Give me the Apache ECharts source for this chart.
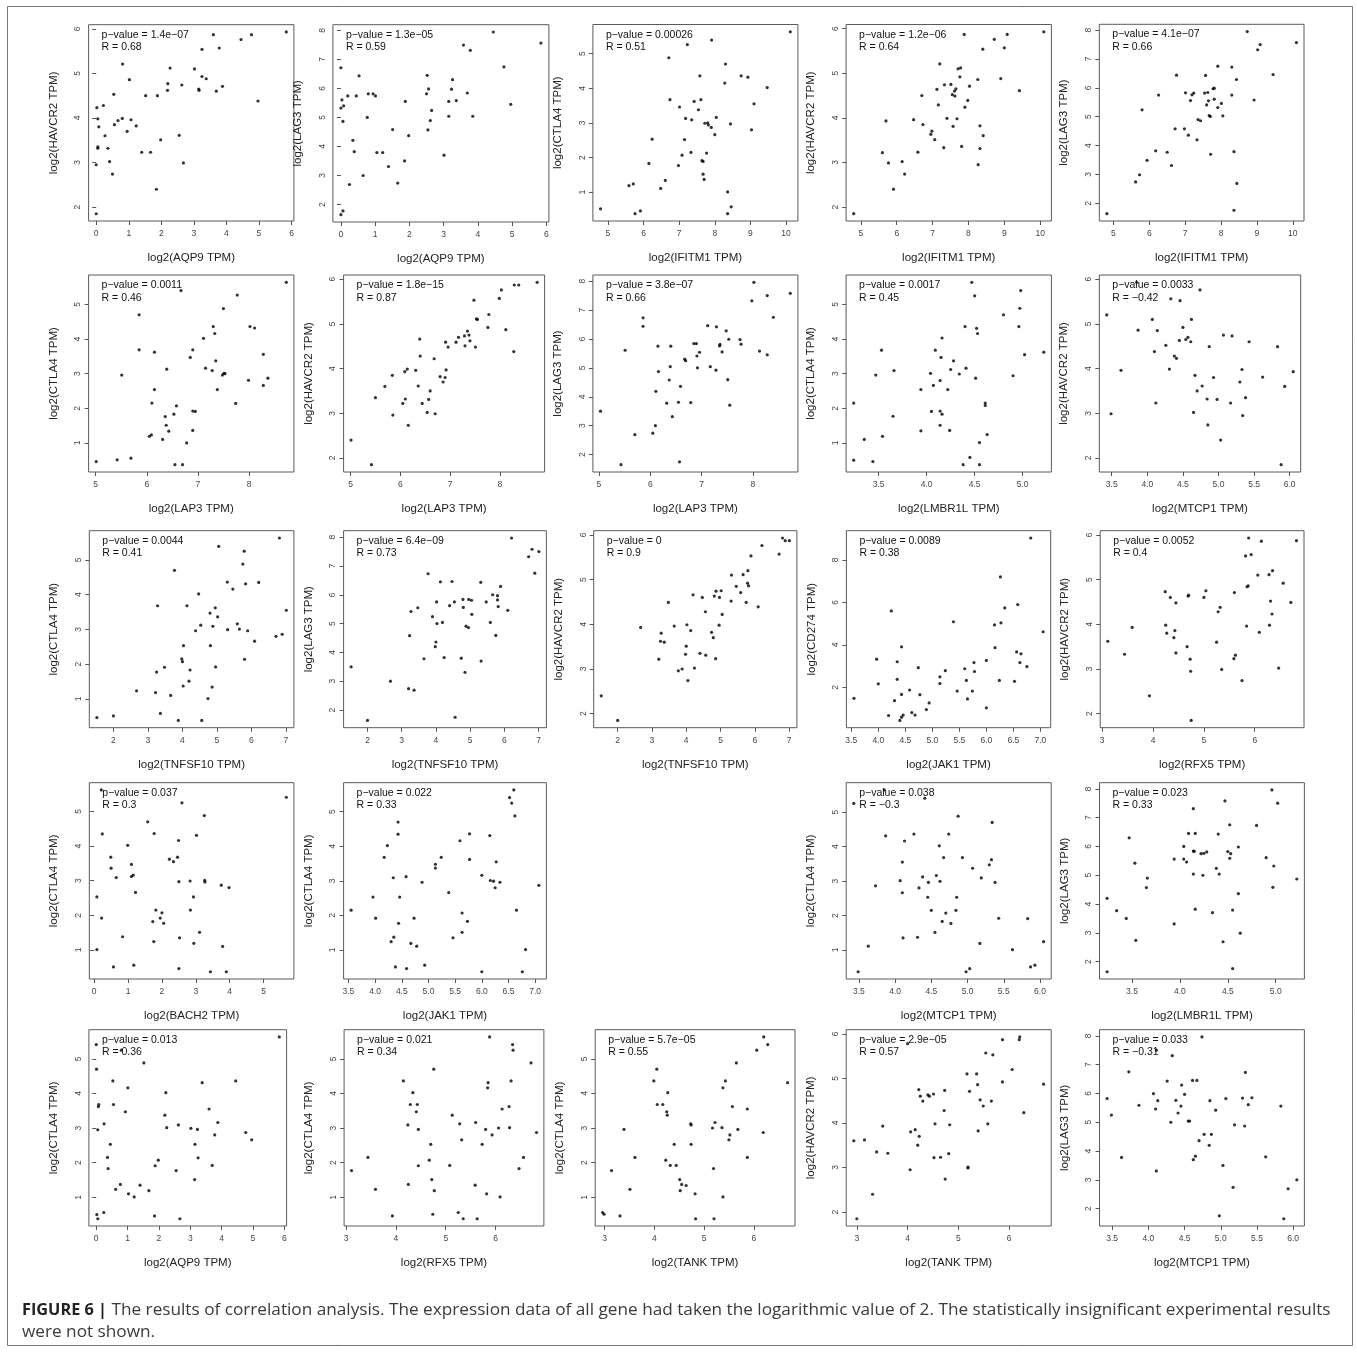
<!DOCTYPE html>
<html><head><meta charset="utf-8">
<script src="https://cdn.jsdelivr.net/npm/echarts@6/dist/echarts.min.js"></script>
<style>html,body{margin:0;padding:0;background:#fff}#c{width:1357px;height:1353px}</style>
</head><body><div id="c"></div><script>
// ---------------- DATA ----------------
const xGenes = ['AQP9','AQP9','IFITM1','IFITM1','IFITM1','LAP3','LAP3','LAP3','LMBR1L','MTCP1','TNFSF10','TNFSF10','TNFSF10','JAK1','RFX5','BACH2','JAK1','MTCP1','LMBR1L','AQP9','RFX5','TANK','TANK','MTCP1'];
const yGenes = ['HAVCR2','LAG3','CTLA4','HAVCR2','LAG3','CTLA4','HAVCR2','LAG3','CTLA4','HAVCR2','CTLA4','LAG3','HAVCR2','CD274','HAVCR2','CTLA4','CTLA4','CTLA4','LAG3','CTLA4','CTLA4','CTLA4','HAVCR2','LAG3'];
const pValues = ['1.4e\u221207','1.3e\u221205','0.00026','1.2e\u221206','4.1e\u221207','0.0011','1.8e\u221215','3.8e\u221207','0.0017','0.0033','0.0044','6.4e\u221209','0','0.0089','0.0052','0.037','0.022','0.038','0.023','0.013','0.021','5.7e\u221205','2.9e\u221205','0.033'];
const rValues = ['0.68','0.59','0.51','0.64','0.66','0.46','0.87','0.66','0.45','\u22120.42','0.41','0.73','0.9','0.38','0.4','0.3','0.33','\u22120.3','0.33','0.36','0.34','0.55','0.57','\u22120.31'];
const xTicks = [[0,1,2,3,4,5,6],[0,1,2,3,4,5,6],[5,6,7,8,9,10],[5,6,7,8,9,10],[5,6,7,8,9,10],[5,6,7,8],[5,6,7,8],[5,6,7,8],[3.5,4,4.5,5],[3.5,4,4.5,5,5.5,6],[2,3,4,5,6,7],[2,3,4,5,6,7],[2,3,4,5,6,7],[3.5,4,4.5,5,5.5,6,6.5,7],[3,4,5,6],[0,1,2,3,4,5],[3.5,4,4.5,5,5.5,6,6.5,7],[3.5,4,4.5,5,5.5,6],[3.5,4,4.5,5],[0,1,2,3,4,5,6],[3,4,5,6],[3,4,5,6],[3,4,5,6],[3.5,4,4.5,5,5.5,6]];
const yTicks = [[2,3,4,5,6],[2,3,4,5,6,7,8],[1,2,3,4,5],[2,3,4,5,6],[2,3,4,5,6,7,8],[1,2,3,4,5],[2,3,4,5,6],[2,3,4,5,6,7,8],[1,2,3,4,5],[2,3,4,5,6],[1,2,3,4,5],[2,3,4,5,6,7,8],[2,3,4,5,6],[2,4,6,8],[2,3,4,5,6],[1,2,3,4,5],[1,2,3,4,5],[1,2,3,4,5],[2,3,4,5,6,7,8],[1,2,3,4,5],[1,2,3,4,5],[1,2,3,4,5],[2,3,4,5,6],[2,3,4,5,6,7,8]];

const p01 = [[0,1.85],[0,2.95],[0.02,4.23],[0.05,3.98],[0.08,3.80],[0.05,3.35],[0.05,3.32],[0.22,4.28],[0.27,3.60],[0.36,3.32],[0.41,3.02],[0.50,2.74],[0.54,4.53],[0.56,3.85],[0.67,3.94],[0.80,3.99],[0.81,5.21],[0.95,3.70],[1.02,4.86],[1.07,3.96],[1.23,3.82],[1.40,3.23],[1.52,4.50],[1.67,3.23],[1.85,2.40],[1.88,4.50],[1.98,3.51],[2.19,4.62],[2.20,4.77],[2.27,5.12],[2.55,3.61],[2.63,4.74],[2.68,2.99],[3.02,5.10],[3.15,4.65],[3.16,4.62],[3.25,5.54],[3.25,4.93],[3.38,4.88],[3.60,5.87],[3.69,4.60],[3.78,5.57],[3.88,4.71],[4.45,5.76],[4.77,5.87],[4.97,4.38],[5.84,5.93]];
const p02 = [[0,1.65],[0.06,1.78],[0,6.71],[0.03,5.60],[0.08,5.40],[0,5.32],[0.06,4.86],[0.25,2.69],[0.35,4.21],[0.39,3.82],[0.2,5.74],[0.45,5.74],[0.53,6.43],[0.65,3.00],[0.77,5.0],[0.80,5.81],[0.94,5.81],[1.01,5.74],[1.05,3.79],[1.22,3.79],[1.39,3.31],[1.51,4.58],[1.66,2.74],[1.86,3.50],[1.88,5.55],[1.98,4.37],[2.50,5.81],[2.52,6.45],[2.56,5.98],[2.54,4.57],[2.61,4.89],[2.65,5.24],[3.01,3.70],[3.15,5.55],[3.15,5.04],[3.23,5.97],[3.26,6.30],[3.37,5.58],[3.58,7.49],[3.69,5.84],[3.78,7.31],[3.85,5.04],[4.45,7.94],[4.76,6.74],[4.96,5.45],[5.84,7.56]];
const p03 = [[4.79,0.52],[5.59,1.19],[5.71,1.24],[5.76,0.38],[5.91,0.46],[6.15,1.83],[6.24,2.53],[6.48,1.11],[6.61,1.34],[6.71,4.88],[6.74,3.67],[6.98,1.77],[7.01,3.46],[7.08,2.07],[7.15,2.52],[7.18,3.13],[7.23,5.26],[7.33,2.15],[7.35,3.09],[7.42,3.62],[7.54,3.38],[7.58,4.36],[7.61,3.67],[7.64,1.91],[7.67,1.89],[7.67,1.52],[7.70,1.37],[7.72,2.99],[7.77,2.13],[7.80,3.00],[7.82,2.94],[7.90,2.87],[7.91,5.39],[8.0,2.66],[8.04,3.16],[8.28,4.15],[8.30,4.70],[8.36,1.01],[8.36,0.38],[8.44,2.97],[8.46,0.58],[8.74,4.36],[8.93,4.32],[9.03,2.80],[9.10,3.55],[9.47,4.02],[10.12,5.63]];
const p04 = [[4.80,1.85],[5.60,3.22],[5.70,3.93],[5.77,2.99],[5.91,2.40],[6.15,3.02],[6.22,2.74],[6.47,3.96],[6.59,3.23],[6.70,4.50],[6.73,3.85],[6.95,3.63],[6.98,3.70],[7.06,3.51],[7.12,4.64],[7.16,4.29],[7.20,5.21],[7.31,3.33],[7.33,4.74],[7.40,3.99],[7.51,4.75],[7.55,4.52],[7.57,3.81],[7.61,4.60],[7.62,4.49],[7.65,4.65],[7.68,3.98],[7.71,5.10],[7.76,4.92],[7.78,5.12],[7.81,3.36],[7.88,5.87],[7.90,4.24],[7.98,4.39],[8.03,4.71],[8.26,4.86],[8.27,2.95],[8.32,3.82],[8.32,3.31],[8.40,5.54],[8.41,3.60],[8.72,5.76],[8.90,4.88],[9.00,5.57],[9.08,5.87],[9.42,4.61],[10.10,5.93]];
const p05 = [[4.82,1.64],[5.62,2.74],[5.73,2.99],[5.80,5.24],[5.94,3.49],[6.18,3.82],[6.26,5.75],[6.50,3.77],[6.62,3.31],[6.72,4.58],[6.76,6.44],[6.98,4.58],[7.01,5.83],[7.09,4.36],[7.15,5.56],[7.19,5.76],[7.24,5.82],[7.33,4.20],[7.36,4.90],[7.43,4.86],[7.54,5.82],[7.57,6.43],[7.60,5.41],[7.63,5.84],[7.65,5.55],[7.67,5.04],[7.70,5.01],[7.71,3.70],[7.78,5.97],[7.81,5.99],[7.81,5.61],[7.91,6.75],[7.91,5.32],[8.01,5.46],[8.05,5.03],[8.30,6.72],[8.30,5.75],[8.36,3.79],[8.43,6.29],[8.44,2.69],[8.36,1.76],[8.73,7.95],[8.92,5.58],[9.02,7.32],[9.09,7.50],[9.45,6.46],[10.10,7.57]];
const p06 = [[5.01,0.46],[5.42,0.51],[5.69,0.56],[5.51,2.96],[5.85,4.70],[5.85,3.69],[6.05,1.19],[6.09,1.23],[6.10,2.15],[6.15,3.62],[6.15,2.54],[6.31,1.10],[6.36,1.76],[6.38,1.51],[6.39,3.13],[6.43,1.34],[6.53,1.83],[6.55,0.37],[6.58,2.07],[6.67,5.40],[6.70,0.37],[6.78,1.00],[6.85,3.47],[6.90,3.69],[6.90,1.36],[6.90,1.92],[6.95,1.91],[7.11,4.02],[7.15,3.16],[7.28,3.09],[7.30,4.36],[7.33,4.16],[7.35,3.37],[7.38,2.54],[7.48,2.96],[7.50,4.88],[7.51,3.01],[7.53,3.00],[7.74,2.14],[7.77,5.27],[7.99,2.81],[8.02,4.36],[8.11,4.32],[8.28,3.56],[8.28,2.66],[8.37,2.87],[8.73,5.64]];
const p07 = [[5.01,2.40],[5.42,1.85],[5.50,3.35],[5.69,3.60],[5.84,3.85],[5.85,2.96],[6.05,3.22],[6.09,3.93],[6.10,3.32],[6.14,3.99],[6.16,2.73],[6.31,3.96],[6.36,3.61],[6.39,4.66],[6.40,4.28],[6.44,3.22],[6.57,3.31],[6.60,3.50],[6.54,3.02],[6.68,4.22],[6.70,2.99],[6.80,3.82],[6.86,3.70],[6.90,3.80],[6.91,4.59],[6.92,3.97],[6.96,4.48],[7.12,4.59],[7.17,4.70],[7.29,4.73],[7.30,4.51],[7.35,4.84],[7.38,4.75],[7.40,4.62],[7.48,5.53],[7.51,4.48],[7.53,5.11],[7.55,5.10],[7.76,4.92],[7.78,5.21],[7.99,5.57],[8.03,5.76],[8.12,4.87],[8.28,4.38],[8.29,5.87],[8.38,5.87],[8.75,5.93]];
const p08 = [[5.03,3.50],[5.43,1.65],[5.51,5.61],[5.70,2.69],[5.86,6.73],[5.86,6.44],[6.05,2.74],[6.10,3.00],[6.11,4.19],[6.15,5.75],[6.16,4.87],[6.32,3.78],[6.37,4.58],[6.39,5.04],[6.40,5.75],[6.43,3.31],[6.55,3.81],[6.57,1.75],[6.59,4.36],[6.67,5.30],[6.69,5.25],[6.79,3.80],[6.85,5.84],[6.90,5.84],[6.91,5.41],[6.92,5.00],[6.96,5.54],[7.12,6.46],[7.17,5.04],[7.28,4.92],[7.29,6.42],[7.35,5.76],[7.36,5.81],[7.40,5.55],[7.48,6.28],[7.51,4.59],[7.53,5.99],[7.55,3.71],[7.75,5.98],[7.77,5.82],[7.98,7.32],[8.02,7.96],[8.13,5.58],[8.28,7.50],[8.28,5.45],[8.40,6.75],[8.73,7.58]];
const p09 = [[3.24,2.15],[3.24,0.50],[3.35,1.10],[3.44,0.46],[3.47,2.96],[3.53,3.68],[3.54,1.19],[3.65,1.77],[3.66,3.09],[3.94,2.54],[3.94,1.35],[4.04,3.01],[4.05,1.91],[4.07,2.66],[4.09,3.68],[4.14,2.80],[4.14,1.92],[4.15,3.47],[4.14,1.51],[4.16,1.83],[4.16,4.03],[4.22,2.54],[4.24,1.36],[4.25,3.12],[4.28,3.37],[4.34,2.99],[4.38,0.37],[4.40,4.36],[4.41,3.16],[4.45,0.58],[4.47,5.64],[4.50,5.25],[4.51,2.87],[4.52,4.31],[4.53,4.16],[4.55,1.01],[4.55,0.37],[4.61,2.15],[4.61,2.08],[4.63,1.24],[4.80,4.70],[4.90,2.94],[4.96,4.36],[4.97,4.89],[4.98,5.40],[5.02,3.55],[5.22,3.62]];
const p10 = [[3.43,5.20],[3.49,2.99],[3.63,3.96],[3.85,5.93],[3.87,4.86],[4.07,5.10],[4.10,4.38],[4.12,3.23],[4.14,4.85],[4.26,4.52],[4.31,3.99],[4.33,5.56],[4.38,4.28],[4.41,4.23],[4.45,4.63],[4.46,5.52],[4.50,4.92],[4.54,4.65],[4.57,4.70],[4.61,4.60],[4.62,5.10],[4.65,3.02],[4.67,3.85],[4.70,3.50],[4.74,5.76],[4.77,3.61],[4.84,3.32],[4.85,2.74],[4.87,4.49],[4.93,3.80],[4.98,3.31],[5.03,2.40],[5.07,4.75],[5.17,3.23],[5.19,4.73],[5.30,3.70],[5.33,3.98],[5.34,2.95],[5.38,3.35],[5.43,4.60],[5.62,3.81],[5.83,4.49],[5.88,1.85],[5.93,3.60],[6.05,3.93]];
const p11 = [[1.52,0.46],[2.00,0.51],[2.67,1.23],[3.22,1.18],[3.25,1.77],[3.28,3.68],[3.36,0.58],[3.48,1.91],[3.66,1.10],[3.77,4.70],[3.88,0.38],[3.98,2.15],[4.00,2.07],[4.02,1.37],[4.03,2.53],[4.13,3.68],[4.19,1.51],[4.22,1.83],[4.38,2.96],[4.47,4.02],[4.53,3.12],[4.56,0.38],[4.74,1.01],[4.80,3.47],[4.81,2.53],[4.86,1.34],[4.88,3.09],[4.95,3.62],[4.96,1.92],[5.02,3.36],[5.05,5.39],[5.30,4.36],[5.31,2.99],[5.46,4.16],[5.59,3.16],[5.65,3.01],[5.75,4.88],[5.79,5.25],[5.80,2.14],[5.83,4.31],[5.89,2.96],[6.09,2.66],[6.21,4.35],[6.71,2.80],[6.81,5.63],[6.89,2.86],[7.01,3.55]];
const p12 = [[1.52,3.50],[2.00,1.64],[2.67,3.00],[3.20,2.74],[3.23,4.58],[3.27,5.42],[3.36,2.69],[3.47,5.55],[3.65,3.78],[3.77,6.73],[3.90,5.24],[3.98,4.20],[4.00,4.36],[4.02,5.75],[4.03,5.00],[4.13,6.45],[4.19,5.04],[4.24,3.82],[4.40,5.62],[4.47,6.46],[4.54,5.75],[4.56,1.75],[4.74,3.80],[4.79,5.84],[4.80,5.56],[4.85,3.31],[4.88,4.91],[4.95,4.86],[4.96,5.84],[5.04,5.81],[5.05,5.32],[5.31,6.43],[5.32,3.70],[5.47,5.75],[5.59,5.04],[5.66,6.00],[5.75,4.59],[5.80,5.97],[5.80,5.82],[5.82,5.59],[5.89,6.29],[6.10,5.46],[6.21,7.97],[6.71,7.32],[6.81,7.58],[6.89,6.75],[7.01,7.50]];
const p13 = [[1.52,2.40],[2.00,1.85],[2.67,3.93],[3.20,3.22],[3.25,3.62],[3.27,3.80],[3.36,3.60],[3.48,4.49],[3.65,3.96],[3.77,2.96],[3.88,3.00],[3.98,3.33],[4.00,3.51],[4.02,3.99],[4.05,2.74],[4.13,3.86],[4.20,4.66],[4.24,3.02],[4.40,3.35],[4.47,4.60],[4.56,4.28],[4.57,3.31],[4.74,3.82],[4.79,3.70],[4.82,4.63],[4.86,3.23],[4.87,4.74],[4.96,3.98],[4.97,4.60],[5.02,4.75],[5.05,4.22],[5.31,4.52],[5.32,5.10],[5.46,4.85],[5.59,4.71],[5.66,5.11],[5.75,4.49],[5.79,4.92],[5.80,5.20],[5.82,4.86],[5.89,5.53],[6.10,4.39],[6.21,5.76],[6.71,5.57],[6.81,5.93],[6.89,5.87],[7.01,5.87]];
const p14 = [[3.55,1.49],[3.97,3.33],[4.00,2.17],[4.19,0.68],[4.24,5.60],[4.30,1.38],[4.35,3.21],[4.35,2.38],[4.40,0.45],[4.43,0.60],[4.43,3.91],[4.43,1.67],[4.46,0.70],[4.58,1.88],[4.62,0.82],[4.68,0.70],[4.74,2.93],[4.77,1.66],[4.89,0.96],[4.94,1.27],[5.14,2.50],[5.14,2.18],[5.24,2.79],[5.39,5.09],[5.46,1.83],[5.60,2.88],[5.63,2.33],[5.65,1.46],[5.74,1.83],[5.77,3.17],[5.78,2.75],[6.00,3.27],[6.00,1.04],[6.15,4.94],[6.16,3.87],[6.24,2.33],[6.26,7.20],[6.27,5.04],[6.34,5.74],[6.52,2.29],[6.56,3.67],[6.58,5.90],[6.62,3.17],[6.64,3.58],[6.75,2.98],[6.82,9.03],[7.05,4.62]];
const p15 = [[3.11,3.62],[3.44,3.33],[3.59,3.93],[3.93,2.40],[4.24,4.73],[4.25,3.98],[4.27,3.80],[4.34,4.60],[4.41,3.70],[4.43,3.86],[4.45,3.36],[4.45,4.48],[4.67,3.50],[4.69,4.63],[4.70,4.65],[4.73,3.22],[4.74,2.95],[4.75,1.85],[5.00,4.60],[5.04,4.75],[5.25,3.60],[5.28,4.28],[5.32,4.38],[5.35,2.99],[5.59,3.23],[5.60,4.71],[5.62,3.31],[5.75,2.74],[5.82,5.53],[5.84,3.96],[5.85,4.84],[5.87,4.86],[5.88,5.93],[5.93,5.56],[6.06,5.10],[6.09,3.82],[6.13,5.86],[6.28,5.11],[6.29,3.98],[6.31,4.52],[6.34,4.23],[6.35,5.20],[6.47,3.02],[6.56,4.92],[6.71,4.49],[6.82,5.87]];
const p16 = [[0.08,2.53],[0.08,1.01],[0.21,5.62],[0.22,1.92],[0.24,4.35],[0.49,3.68],[0.50,3.36],[0.57,0.51],[0.65,3.09],[0.84,1.38],[0.99,4.02],[1.10,3.47],[1.10,3.12],[1.15,3.16],[1.17,0.56],[1.22,2.66],[1.58,4.70],[1.73,1.82],[1.76,1.24],[1.77,4.36],[1.82,2.15],[1.95,1.92],[2.00,2.07],[2.05,1.77],[2.22,3.62],[2.34,3.55],[2.46,3.68],[2.49,4.16],[2.50,2.97],[2.50,0.46],[2.52,1.35],[2.59,5.25],[2.83,2.99],[2.84,2.15],[2.93,2.53],[2.94,1.19],[3.02,4.31],[3.11,1.51],[3.25,4.88],[3.26,3.01],[3.27,2.96],[3.43,0.37],[3.75,2.87],[3.79,1.10],[3.90,0.37],[3.98,2.80],[5.67,5.41]];
const p17 = [[3.55,2.15],[3.96,2.53],[4.01,1.92],[4.17,3.68],[4.23,4.02],[4.30,1.24],[4.35,1.37],[4.34,3.09],[4.38,0.51],[4.43,4.70],[4.43,4.35],[4.44,1.77],[4.46,2.53],[4.58,3.12],[4.59,0.46],[4.67,1.19],[4.73,1.92],[4.78,1.11],[4.88,2.96],[4.93,0.56],[5.13,3.48],[5.13,3.37],[5.24,3.68],[5.38,2.66],[5.46,1.35],[5.59,4.16],[5.63,2.07],[5.63,1.51],[5.73,1.83],[5.77,4.36],[5.77,3.62],[6.00,3.16],[6.00,0.37],[6.15,4.31],[6.16,3.01],[6.22,2.99],[6.25,2.80],[6.27,3.55],[6.34,2.96],[6.52,5.41],[6.56,5.25],[6.60,5.63],[6.62,4.88],[6.65,2.15],[6.76,0.37],[6.82,1.01],[7.07,2.87]];
const p19 = [[3.43,5.25],[3.49,0.37],[3.63,1.11],[3.73,2.86],[3.85,5.64],[3.87,4.31],[4.07,3.01],[4.10,2.66],[4.10,3.55],[4.11,1.35],[4.13,4.16],[4.26,4.36],[4.31,1.37],[4.33,2.80],[4.38,3.12],[4.41,5.40],[4.45,2.53],[4.46,2.96],[4.50,2.15],[4.55,1.51],[4.57,3.16],[4.61,4.02],[4.62,2.99],[4.65,1.83],[4.67,3.68],[4.70,2.07],[4.74,4.36],[4.77,1.77],[4.84,2.15],[4.85,2.53],[4.87,4.88],[4.93,3.68],[4.98,0.37],[5.03,0.46],[5.07,3.37],[5.17,1.19],[5.19,3.09],[5.30,3.47],[5.33,3.62],[5.34,4.70],[5.38,2.96],[5.43,1.92],[5.62,1.01],[5.83,1.91],[5.87,0.51],[5.93,0.56],[6.05,1.24]];
const p20 = [[3.24,1.65],[3.24,4.20],[3.34,3.77],[3.44,3.50],[3.47,6.30],[3.53,5.42],[3.54,2.74],[3.65,4.57],[3.66,4.90],[3.94,3.31],[3.94,5.56],[4.04,5.56],[4.04,6.00],[4.07,5.46],[4.09,6.45],[4.14,7.31],[4.14,5.04],[4.14,5.84],[4.15,5.83],[4.16,6.45],[4.16,3.82],[4.22,5.75],[4.24,5.00],[4.25,5.76],[4.28,5.81],[4.34,3.70],[4.38,5.24],[4.40,6.43],[4.41,5.04],[4.45,2.69],[4.47,7.58],[4.50,5.82],[4.52,5.59],[4.52,6.75],[4.53,5.75],[4.55,3.79],[4.55,1.76],[4.61,4.36],[4.61,5.98],[4.63,2.99],[4.80,6.73],[4.90,5.61],[4.96,7.96],[4.97,4.58],[4.98,5.32],[5.02,7.50],[5.22,4.87]];
const p21 = [[0.0,5.41],[0.01,4.70],[0.02,0.50],[0.05,0.38],[0.05,2.95],[0.07,3.62],[0.08,3.68],[0.24,0.56],[0.25,3.12],[0.36,2.15],[0.38,1.83],[0.45,2.53],[0.53,4.36],[0.55,3.68],[0.62,1.23],[0.77,1.37],[0.80,5.25],[0.93,3.47],[1.01,4.16],[1.03,1.10],[1.21,1.01],[1.40,1.35],[1.52,4.88],[1.68,1.19],[1.86,0.46],[1.88,1.91],[1.98,2.07],[2.19,3.37],[2.22,4.02],[2.25,3.01],[2.55,1.77],[2.62,3.09],[2.67,0.38],[3.02,2.99],[3.14,1.51],[3.15,2.53],[3.23,2.96],[3.25,2.14],[3.38,4.31],[3.60,3.55],[3.70,1.92],[3.78,2.80],[3.88,3.16],[4.45,4.36],[4.77,2.87],[4.96,2.66],[5.84,5.63]];
const p22 = [[3.11,1.77],[3.44,2.15],[3.59,1.23],[3.93,0.46],[4.15,4.36],[4.24,3.09],[4.25,1.37],[4.29,3.68],[4.34,4.02],[4.41,3.47],[4.43,3.68],[4.45,2.96],[4.45,1.91],[4.67,2.07],[4.70,2.53],[4.72,1.51],[4.74,0.51],[4.76,4.70],[4.77,1.19],[5.08,1.92],[5.13,3.37],[5.25,0.56],[5.28,3.12],[5.32,2.66],[5.35,0.38],[5.59,1.35],[5.60,3.16],[5.63,0.38],[5.73,2.53],[5.80,2.96],[5.82,1.10],[5.84,4.16],[5.85,4.31],[5.88,5.63],[5.93,2.80],[6.06,3.00],[6.09,1.01],[6.13,3.55],[6.27,3.62],[6.28,3.01],[6.31,4.36],[6.34,5.41],[6.35,5.25],[6.47,1.83],[6.56,2.15],[6.71,4.88],[6.82,2.87]];
const p23 = [[2.96,0.56],[2.99,0.51],[3.14,1.77],[3.31,0.46],[3.39,2.96],[3.51,1.23],[3.61,2.15],[3.99,4.36],[4.05,4.70],[4.06,3.68],[4.17,3.68],[4.23,2.07],[4.25,3.47],[4.26,3.37],[4.27,4.02],[4.32,1.92],[4.40,2.53],[4.44,1.92],[4.51,1.51],[4.52,1.19],[4.55,1.37],[4.64,1.34],[4.73,3.12],[4.74,3.09],[4.74,2.53],[4.82,1.10],[4.83,0.38],[5.17,3.00],[5.19,1.83],[5.20,0.38],[5.22,3.16],[5.36,3.01],[5.38,1.01],[5.38,4.16],[5.43,4.36],[5.50,2.66],[5.52,2.80],[5.57,3.62],[5.65,4.88],[5.68,2.96],[5.87,3.55],[5.87,2.15],[6.06,5.25],[6.19,2.87],[6.20,5.63],[6.28,5.41],[6.68,4.31]];
const p24 = [[2.94,3.60],[3.00,1.85],[3.15,3.62],[3.31,2.40],[3.39,3.35],[3.51,3.93],[3.61,3.32],[4.00,5.78],[4.05,2.95],[4.06,3.80],[4.15,3.85],[4.20,3.50],[4.22,4.75],[4.23,3.70],[4.25,4.60],[4.30,4.49],[4.40,4.63],[4.43,4.60],[4.51,4.65],[4.52,3.22],[4.54,3.98],[4.65,3.23],[4.72,4.28],[4.73,4.73],[4.74,2.74],[4.81,3.31],[4.83,3.96],[5.17,5.10],[5.19,3.01],[5.19,2.99],[5.22,4.71],[5.36,5.10],[5.38,4.86],[5.39,3.82],[5.43,4.52],[5.49,4.38],[5.54,5.57],[5.58,3.98],[5.65,4.49],[5.68,5.53],[5.87,5.87],[5.87,4.92],[6.06,5.20],[6.20,5.87],[6.21,5.93],[6.29,4.23],[6.68,4.87]];
const p25 = [[3.43,5.82],[3.49,5.25],[3.63,3.78],[3.73,6.75],[3.87,5.59],[4.07,5.99],[4.10,5.46],[4.11,3.31],[4.11,7.50],[4.13,5.75],[4.26,6.43],[4.31,5.00],[4.33,7.31],[4.38,5.76],[4.41,5.32],[4.45,5.56],[4.46,6.29],[4.50,5.97],[4.55,5.04],[4.57,5.04],[4.61,6.45],[4.62,3.70],[4.65,3.82],[4.67,6.45],[4.70,4.36],[4.74,7.96],[4.77,4.58],[4.84,4.20],[4.85,5.75],[4.87,4.58],[4.93,5.42],[4.98,1.75],[5.03,3.50],[5.07,5.82],[5.17,2.74],[5.19,4.91],[5.30,5.84],[5.33,4.87],[5.34,6.73],[5.38,5.61],[5.43,5.85],[5.62,3.80],[5.83,5.56],[5.87,1.65],[5.93,2.69],[6.05,3.00]];
const panelData = [p01,p02,p03,p04,p05,p06,p07,p08,p09,p10,p11,p12,p13,p14,p15,p16,p17,p19,p20,p21,p22,p23,p24,p25];

const captionBold = 'FIGURE 6 |';
const captionLine1 = ' The results of correlation analysis. The expression data of all gene had taken the logarithmic value of 2. The statistically insignificant experimental results';
const captionLine2 = 'were not shown.';

// ---------------- LAYOUT (plot boxes: left, top, right, bottom) ----------------
const boxes = [
  [88.6,24.7,293.9,221],[332.9,24.7,548.9,222],[592.9,24.5,797.9,221],[846.1,24.5,1051.4,221],[1099.3,24.3,1304,221],
  [88.6,275,293.9,472],[343.6,275,544.6,472],[592.9,275,797.9,472],[846.1,275,1051.4,472],[1099.3,275,1300.7,472],
  [89.3,530.7,293.9,727.7],[343.6,530.7,546.4,727.7],[593.7,530.7,796.9,727.7],[846.4,530.7,1050.7,727.7],[1100.2,530.7,1304,727.7],
  [89.3,782.7,293.9,979],[343.6,782.7,546.4,979],[846.2,782.7,1051.2,979],[1099.5,782.7,1304.4,979],
  [88.9,1029.7,286.6,1226],[344.1,1029.7,543.9,1226],[595.2,1029.7,795,1226],[846.2,1029.7,1051.2,1226],[1099.5,1029.7,1304.4,1226]
];

const FONT = 'Liberation Sans, Arial, sans-serif';
const CAPFONT = '"Open Sans", "Liberation Sans", sans-serif';
function ext(vals){const mn=Math.min(...vals),mx=Math.max(...vals),d=mx-mn;return [mn-0.04*d,mx+0.04*d];}
function fmt(ticks){const dec=ticks.some(t=>!Number.isInteger(t))?1:0;return v=>Number(v).toFixed(dec);}

const grids=[],xAxes=[],yAxes=[],series=[],titles=[];
panelData.forEach((pts,i)=>{
  const b=boxes[i];
  grids.push({left:b[0],top:b[1],width:b[2]-b[0],height:b[3]-b[1],show:true,borderColor:'#5a5a5a',borderWidth:1,containLabel:false,outerBoundsMode:'none'});
  const xr=ext(pts.map(p=>p[0])), yr=ext(pts.map(p=>p[1]));
  xAxes.push({gridIndex:i,type:'value',min:xr[0],max:xr[1],
    name:'log2('+xGenes[i]+' TPM)',nameLocation:'middle',nameGap:31,
    nameTextStyle:{fontSize:11.5,color:'#222',fontFamily:FONT},
    axisLine:{show:false},splitLine:{show:false},
    axisTick:{show:true,customValues:xTicks[i],length:4,lineStyle:{color:'#555',width:1}},
    axisLabel:{customValues:xTicks[i],formatter:fmt(xTicks[i]),fontSize:8.5,color:'#444',margin:8,fontFamily:FONT}});
  yAxes.push({gridIndex:i,type:'value',min:yr[0],max:yr[1],
    name:'log2('+yGenes[i]+' TPM)',nameLocation:'middle',nameGap:29,
    nameTextStyle:{fontSize:11.5,color:'#222',fontFamily:FONT},
    axisLine:{show:false},splitLine:{show:false},
    axisTick:{show:true,customValues:yTicks[i],length:4,lineStyle:{color:'#555',width:1}},
    axisLabel:{customValues:yTicks[i],formatter:fmt(yTicks[i]),rotate:90,fontSize:8.5,color:'#444',margin:6,fontFamily:FONT}});
  series.push({type:'scatter',xAxisIndex:i,yAxisIndex:i,data:pts,symbol:'circle',symbolSize:3.2,itemStyle:{color:'#000'},silent:true,animation:false});
  titles.push({left:b[0]+13,top:b[1]+4,padding:0,text:'p\u2212value = '+pValues[i]+'\nR = '+rValues[i],
    textStyle:{fontSize:10.5,fontWeight:'normal',color:'#111',lineHeight:12.5,fontFamily:FONT}});
});

const chart=echarts.init(document.getElementById('c'),null,{renderer:'canvas'});
chart.setOption({
  animation:false,
  backgroundColor:'#fff',
  title:titles,grid:grids,xAxis:xAxes,yAxis:yAxes,series:series,
  graphic:[
    {type:'rect',shape:{x:7.5,y:6.5,width:1345,height:1339},style:{fill:'none',stroke:'#777',lineWidth:1},silent:true},
    {type:'text',x:22,y:1302,style:{text:'{b|'+captionBold+'}'+captionLine1,font:'17.2px '+CAPFONT,fill:'#3a3a3a',
      rich:{b:{fontWeight:'bold',fontSize:16.3,fontFamily:CAPFONT,fill:'#222'}}}},
    {type:'text',x:22,y:1324,style:{text:captionLine2,font:'17.2px '+CAPFONT,fill:'#3a3a3a'}}
  ]
});
</script></body></html>
